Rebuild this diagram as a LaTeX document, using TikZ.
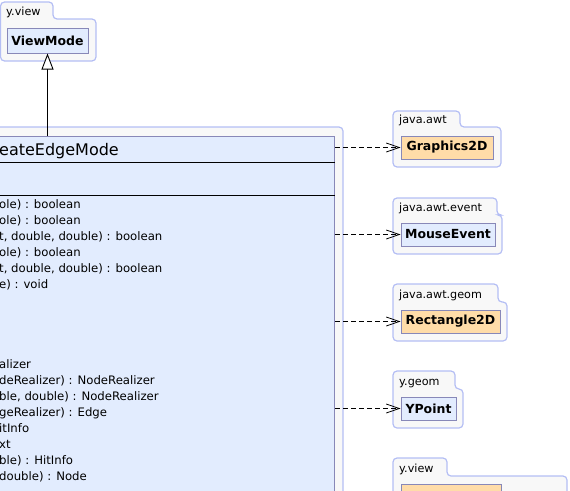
\documentclass[tikz,border=0pt]{standalone}
\usepackage{fontspec}
\setmainfont{DejaVu Sans}
\usetikzlibrary{positioning, arrows.meta}

\definecolor{pkgline}{HTML}{B4BEF4}
\definecolor{pkgfill}{HTML}{F8F8F8}
\definecolor{clsline}{HTML}{8888B8}
\definecolor{clsblue}{HTML}{E2ECFE}
\definecolor{clsorange}{HTML}{FFDCA8}

\begin{document}
\begin{tikzpicture}[
    x=1pt, y=-1pt,
    font=\fontsize{11.7}{16}\selectfont,
    pkg/.style={draw=pkgline, fill=pkgfill, line width=1.2pt, rounded corners=4pt},
    pkglabel/.style={anchor=base west, inner sep=0pt, font=\fontsize{11.2}{13}\selectfont},
    cls/.style={draw=clsline, line width=1pt, inner sep=0pt, minimum height=23pt,
                font=\bfseries\fontsize{12.5}{14}\selectfont},
    member/.style={anchor=base west, inner sep=0pt},
    dep/.style={-{Straight Barb[length=13pt, width=9pt]}, dash pattern=on 5pt off 3pt, line width=0.8pt},
    inherit/.style={-{Triangle[open, fill=white, length=16pt, width=12pt]}, line width=0.9pt}
]
\useasboundingbox (0,0) rectangle (570,490);
\clip (0,0) rectangle (570,490);

% packages
\draw[pkg] (0.5,2) -- (53,2) -- (53,19) -- (96,19) -- (96,61) -- (0.5,61) -- cycle;
\draw[pkg] (-250,127) -- (343,127) -- (343,530) -- (-250,530) -- cycle;
\draw[pkg] (393,111) -- (460,111) -- (460,127) -- (501,127) -- (501,167) -- (393,167) -- cycle;
\draw[pkg] (393,198) -- (497,198) -- (497,215) -- (502,215) -- (502,254) -- (393,254) -- cycle;
\draw[pkg] (393,284) -- (498,284) -- (498,302) -- (507,302) -- (507,341) -- (393,341) -- cycle;
\draw[pkg] (393,371) -- (455,371) -- (455,389) -- (463,389) -- (463,428) -- (393,428) -- cycle;
\draw[pkg] (393,458) -- (447,458) -- (447,476) -- (567,476) -- (567,530) -- (393,530) -- cycle;

\node[pkglabel] (viewpkg)   at (6,15.5)    {y.view};
\node[pkglabel] (awtpkg)    at (399,123)   {java.awt};
\node[pkglabel] (eventpkg)  at (399,211)   {java.awt.event};
\node[pkglabel] (geompkg)   at (399,298)   {java.awt.geom};
\node[pkglabel] (ygeompkg)  at (399,385)   {y.geom};
\node[pkglabel] (viewpkgb)  at (399,472)   {y.view};

% classes
\node[cls, fill=clsblue, minimum width=81pt, minimum height=25pt] (viewmode) at (47.5,40.5) {ViewMode};
\node[cls, fill=clsorange, minimum width=92pt] (graphics)   at (447,147.5) {Graphics2D};
\node[cls, fill=clsblue,   minimum width=94pt] (mouseevent) at (448,234.5) {MouseEvent};
\node[cls, fill=clsorange, minimum width=99pt] (rect)       at (450.5,321.5) {Rectangle2D};
\node[cls, fill=clsblue,   minimum width=55pt] (ypoint)     at (428.5,408.5) {YPoint};
\node[cls, fill=clsorange, minimum width=100pt, anchor=north west] (viewclass) at (401,484) {};

\node[cls, fill=clsblue, minimum width=585pt, minimum height=400pt, anchor=north east] (edgemode) at (335,136) {};
\node[anchor=base west, inner sep=0pt, font=\fontsize{16}{18}\selectfont] (edgemodename) at (-1,155) {eateEdgeMode};
\draw[line width=1pt] (edgemode.west |- 0,162) -- (edgemode.east |- 0,162);
\draw[line width=1pt] (edgemode.west |- 0,195) -- (edgemode.east |- 0,195);

\foreach \y/\txt in {208/{ole) : boolean}, 224/{ole) : boolean}, 240/{t, double, double) : boolean},
    256/{ole) : boolean}, 272/{t, double, double) : boolean}, 288/{e) : void},
    368/{alizer}, 384/{deRealizer) : NodeRealizer}, 400/{ble, double) : NodeRealizer},
    416/{geRealizer) : Edge}, 432/{itInfo}, 448/{xt}, 464/{ble) : HitInfo}, 480/{double) : Node}}
  {\node[member] (m\y) at (-1,\y) {\txt};}

% connectors
\draw[inherit] (edgemode.north -| viewmode.south) -- (viewmode.south);
\foreach \n in {graphics, mouseevent, rect, ypoint}{\draw[dep] (edgemode.east |- \n.west) -- (\n.west);}
\end{tikzpicture}
\end{document}
